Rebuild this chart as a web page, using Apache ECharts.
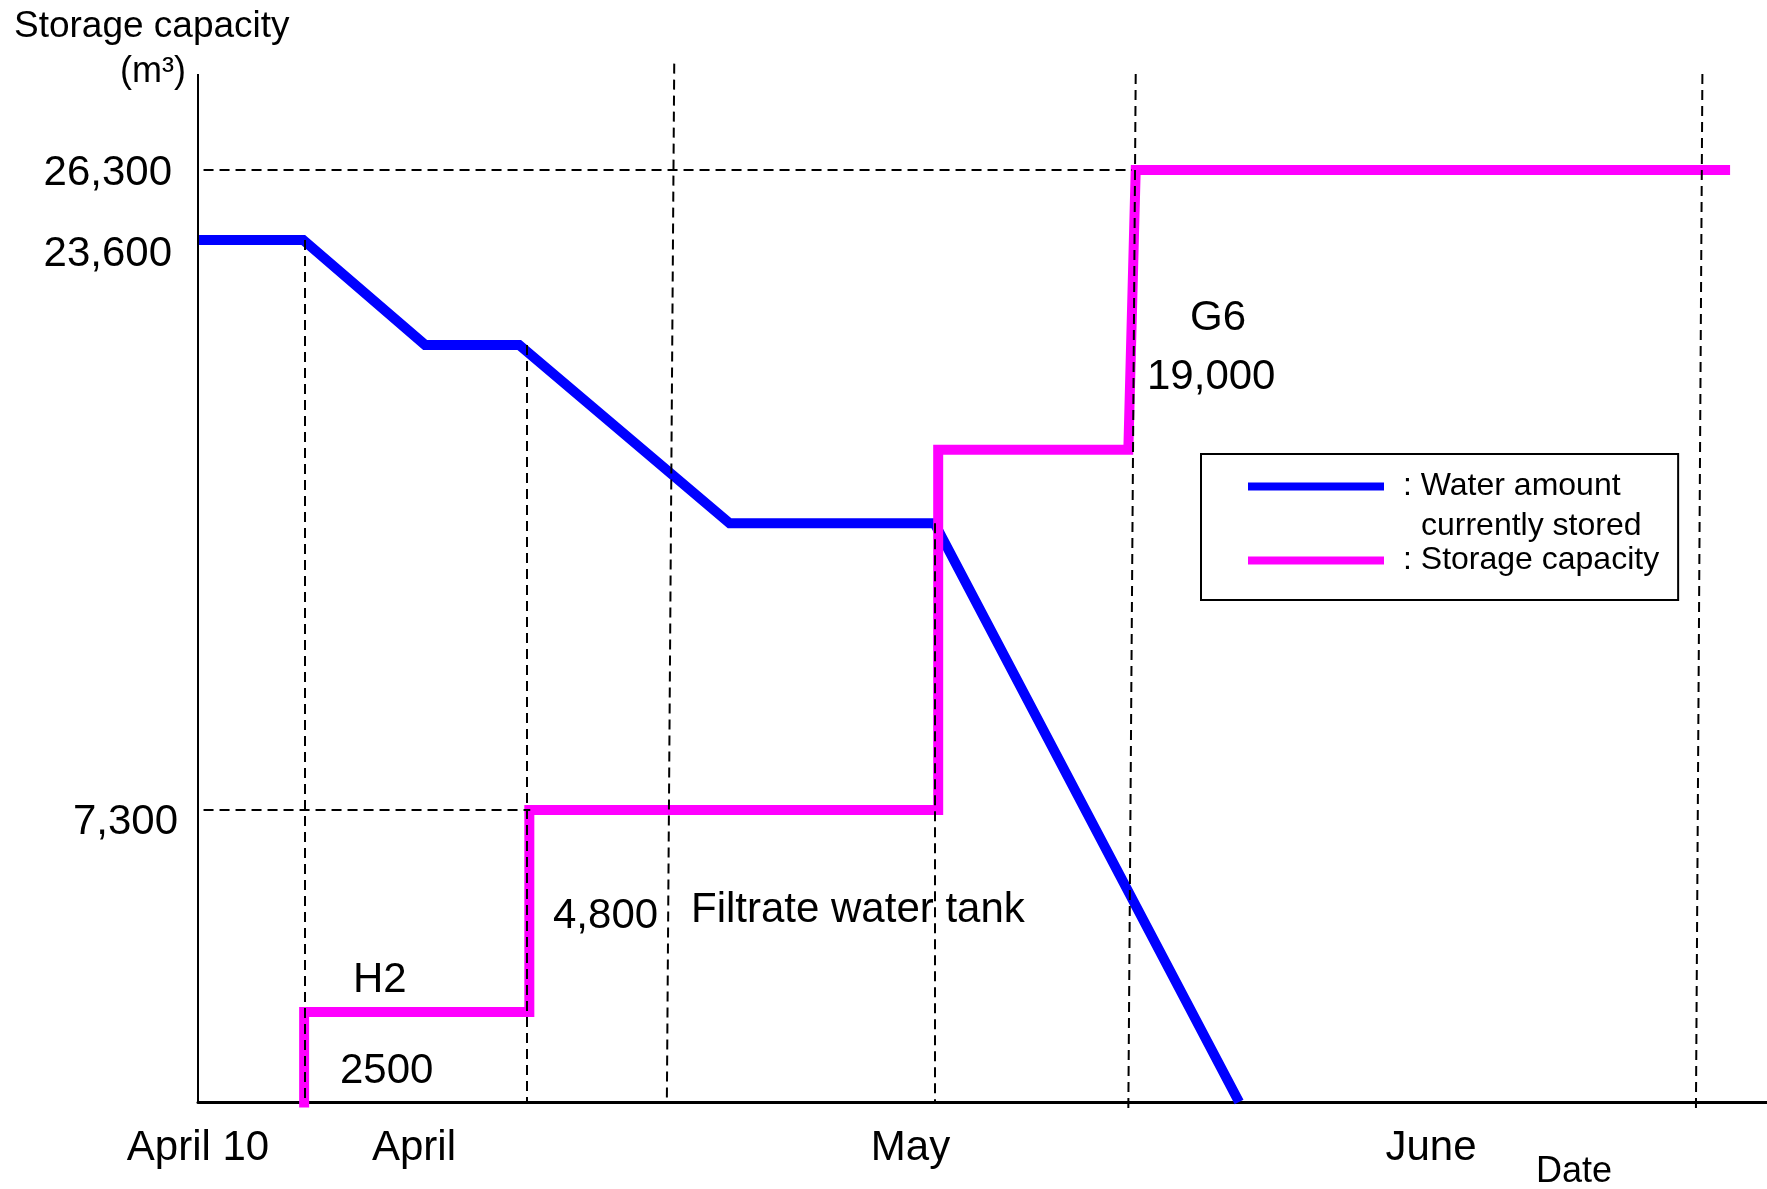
<!DOCTYPE html>
<html>
<head>
<meta charset="utf-8">
<title>Storage capacity</title>
<script src="https://cdn.jsdelivr.net/npm/echarts@6/dist/echarts.min.js"></script>
<style>
  html, body { margin: 0; padding: 0; background: #fff; }
  #chart { width: 1767px; height: 1189px; }
</style>
</head>
<body>
<div id="chart"></div>
<script>
// x = days counted from April 10
const waterDays = [0, 5.7, 12.3, 17.4, 28.8, 39.9, 56.4]
const waterValues = [23600, 23600, 20600, 20600, 15500, 15500, 0]

const capacityDays = [5.75, 5.75, 17.95, 17.95, 40.1, 40.1, 50.4, 50.8, 83.0]
const capacityValues = [-150, 2500, 2500, 7300, 7300, 17600, 17600, 26300, 26300]

const yTickValues = [26300, 23600, 7300]
const yTickLabels = ['26,300', '23,600', '7,300']
const xTickDays = [0, 11.7, 38.6, 66.8]
const xTickLabels = ['April 10', 'April', 'May', 'June']

// dashed guide lines: [day from, value from, day to, value to]
const guideLines = [
  [0.3, 26300, 50.6, 26300],
  [0.3, 7300, 18.0, 7300],
  [5.8, 23600, 5.8, 0],
  [17.8, 20600, 17.8, 0],
  [25.8, 30400, 25.4, 0],
  [39.9, 15500, 39.9, 0],
  [50.8, 30000, 50.4, -220],
  [81.5, 30000, 81.15, -220]
]

// the drawing's vertical scale is not linear: breakpoints value -> height
const scaleValues = [0, 2500, 7300, 23600, 26300, 30000]
const scaleHeights = [0, 90, 292, 862, 932, 1028]

function yPos(v) {
  let i = 0
  while (i < scaleValues.length - 2 && v > scaleValues[i + 1]) i++
  const v0 = scaleValues[i], v1 = scaleValues[i + 1]
  const h0 = scaleHeights[i], h1 = scaleHeights[i + 1]
  return h0 + (v - v0) * (h1 - h0) / (v1 - v0)
}

const FONT = "'Liberation Sans', Arial, sans-serif"
const WATER = 'Water amount currently stored'
const CAPACITY = 'Storage capacity'

function findLabel(list, labels, v) {
  const i = list.findIndex(x => Math.abs(x - v) < 1e-6)
  return i < 0 ? '' : labels[i]
}

const chart = echarts.init(document.getElementById('chart'))

function txt(text, x, y, size, align) {
  return {
    type: 'text', x: x, y: y, silent: true,
    style: {
      text: text, font: size + 'px ' + FONT, fill: '#000',
      textAlign: align || 'left', align: align || 'left',
      textVerticalAlign: 'middle', verticalAlign: 'middle'
    }
  }
}

const guideData = guideLines.map(g => [
  { coord: [g[0], yPos(g[1])] },
  { coord: [g[2], yPos(g[3])] }
])
// y axis line itself, from 0 to the top of the drawing
guideData.push([
  { coord: [0, yPos(0)], lineStyle: { type: 'solid', width: 2 } },
  { coord: [0, yPos(30000)] }
])

const option = {
  backgroundColor: '#fff',
  animation: false,
  grid: {
    left: 198, right: 0, top: 62, bottom: 75,
    containLabel: false,
    outerBoundsMode: 'none'
  },
  legend: {
    orient: 'vertical',
    left: 1201,
    top: 454,
    data: [WATER, CAPACITY],
    icon: 'rect',
    itemWidth: 136,
    itemHeight: 8,
    itemGap: 37,
    selectedMode: false,
    borderColor: '#000',
    borderWidth: 2,
    borderRadius: 0,
    padding: [14, 19, 21, 47],
    formatter: name => name === WATER ? ': Water amount' : ': Storage capacity',
    textStyle: {
      fontSize: 32, fontFamily: FONT, color: '#000',
      lineHeight: 37, padding: [0, 0, 0, 14]
    }
  },
  xAxis: {
    type: 'value',
    min: 0,
    max: 85,
    axisLine: { show: true, onZero: true, lineStyle: { color: '#000', width: 3 } },
    axisTick: { show: false },
    splitLine: { show: false },
    axisLabel: {
      customValues: xTickDays,
      margin: 13,
      fontSize: 42,
      fontFamily: FONT,
      color: '#000',
      formatter: v => findLabel(xTickDays, xTickLabels, v)
    }
  },
  yAxis: {
    type: 'value',
    min: -12,
    max: 1040,
    axisLine: { show: false },
    axisTick: { show: false },
    splitLine: { show: false },
    axisLabel: {
      customValues: yTickValues.map(yPos),
      margin: 20,
      fontSize: 42,
      fontFamily: FONT,
      color: '#000',
      formatter: v => {
        const s = findLabel(yTickValues.map(yPos), yTickLabels, v)
        return s === '26,300' ? '{hi|' + s + '}' : s === '23,600' ? '{mid|' + s + '}' : '{lo|' + s + '}'
      },
      rich: {
        hi: { fontSize: 42, fontFamily: FONT, color: '#000', padding: [6, 6, 0, 0] },
        mid: { fontSize: 42, fontFamily: FONT, color: '#000', padding: [28, 6, 0, 0] },
        lo: { fontSize: 42, fontFamily: FONT, color: '#000', padding: [24, 0, 0, 0] }
      }
    }
  },
  series: [
    {
      name: 'guides',
      type: 'line',
      data: [],
      silent: true,
      clip: false,
      z: 1,
      markLine: {
        silent: true,
        symbol: ['none', 'none'],
        label: { show: false },
        lineStyle: { color: '#000', width: 2, type: [10, 6] },
        emphasis: { disabled: true },
        data: guideData
      }
    },
    {
      name: WATER,
      type: 'line',
      data: waterDays.map((d, i) => [d, yPos(waterValues[i])]),
      showSymbol: false,
      clip: false,
      z: 3,
      itemStyle: { color: '#0000ff' },
      lineStyle: { color: '#0000ff', width: 10, join: 'miter', cap: 'butt' }
    },
    {
      name: CAPACITY,
      type: 'line',
      data: capacityDays.map((d, i) => [d, yPos(capacityValues[i])]),
      showSymbol: false,
      clip: false,
      z: 4,
      itemStyle: { color: '#ff00ff' },
      lineStyle: { color: '#ff00ff', width: 10, join: 'miter', cap: 'butt' }
    }
  ],
  graphic: [
    txt('Storage capacity', 14, 27, 37),
    txt('(m\u00b3)', 186, 72, 36, 'right'),
    txt('Date', 1574, 1172, 36, 'center'),
    txt('G6', 1218, 318, 42, 'center'),
    txt('19,000', 1147, 377, 42),
    txt('4,800', 553, 916, 42),
    txt('Filtrate water tank', 691, 910, 42),
    txt('H2', 353, 980, 42),
    txt('2500', 340, 1071, 42),
    txt('currently stored', 1421, 526, 32)
  ]
}

chart.setOption(option)
window.addEventListener('resize', () => chart.resize())
</script>
</body>
</html>
